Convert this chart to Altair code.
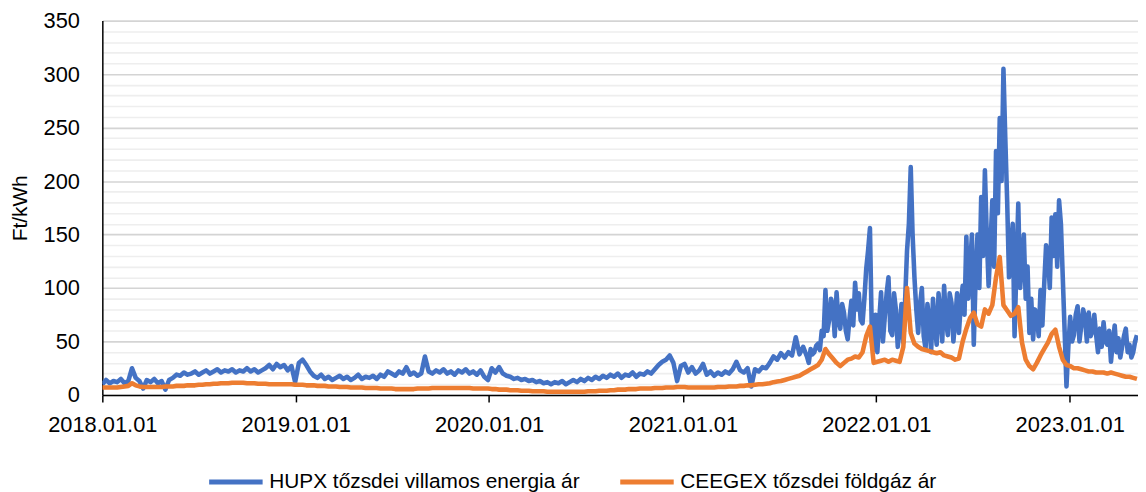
import altair as alt
import pandas as pd

start_date = "2018-01-01"
step = "7D"
series_names = ["HUPX tőzsdei villamos energia ár", "CEEGEX tőzsdei földgáz ár"]
series_colors = ["#4472C4", "#ED7D31"]
year_ticks = [2018, 2019, 2020, 2021, 2022, 2023]

# weekly HUPX values (Ft/kWh), from 2018-01-01
hupx = [
    # 2018
    10, 14, 11, 13, 12, 15, 11, 13, 25, 16,
    13, 6, 14, 12, 15, 11, 13, 5, 14, 16,
    19, 18, 21, 19, 20, 22, 19, 21, 23, 20,
    22, 24, 21, 23, 22, 24, 21, 23, 22, 25,
    22, 24, 21, 23, 25, 28, 24, 29, 26, 28,
    23, 27,
    # 2019
    12, 30, 33, 28, 22, 18, 16, 19, 15, 17,
    14, 16, 18, 15, 17, 14, 16, 19, 15, 17,
    16, 18, 15, 19, 17, 22, 20, 18, 22, 20,
    26, 19, 21, 18, 20, 36, 22, 20, 23, 21,
    24, 20, 22, 19, 23, 21, 24, 20, 22, 19,
    23, 17,
    # 2020
    14, 25, 21, 26, 20, 18, 17, 15, 16, 14,
    15, 13, 14, 12, 13, 11, 12, 10, 12, 11,
    13, 10, 12, 14, 12, 15, 13, 16, 14, 17,
    15, 18, 16, 19, 17, 20, 16, 19, 18, 21,
    17, 20, 19, 22, 20, 24, 28, 31, 33, 37,
    30, 13,
    # 2021
    27, 29, 21, 26, 20, 23, 29, 19, 22, 18,
    21, 19, 22, 20, 24, 31, 23, 21, 25, 8,
    24, 22, 26, 25, 30, 36, 33, 39, 35, 40,
    37, 54, 38, 45, 36, 43, 40, 48, 60, 98,
    70, 84, 96, 62, 77, 52, 88, 105, 95, 67,
    118, 156, 42,
    # 2022 - 2023
    40, 96, 73, 110, 56, 80, 62, 49, 135, 213,
    110, 58, 100, 43, 70, 90, 47, 75, 102, 56,
    86, 70, 58, 102, 148, 120, 47, 150, 185, 210,
    102, 182, 228, 259, 305, 182, 133, 55, 179, 124,
    90, 58, 52, 75, 98, 104, 130, 166, 169, 182,
    110, 8, 73, 56, 83, 65, 72, 77, 60, 56,
    62, 68, 47, 31, 65, 53, 45, 62, 47, 40,
    56,
]

# mid-week HUPX values for the volatile period, from week 190 on
mid_first_week = 190
hupx_mid = [
    30, 38, 46, 42, 55, 60, 90, 55, 70, 85,
    60, 72, 65, 80, 70, 90, 135, 60, 75, 70,
    50, 95, 60, 95, 45, 85, 90, 160, 150, 80,
    85, 55, 85, 40, 65, 95, 50, 70, 95, 50,
    95, 85, 75, 90, 150, 110, 100, 130, 150, 140,
    120, 170, 200, 240, 110, 160, 120, 100, 150, 120,
    90, 80, 55, 65, 140, 100, 130, 120, 160, 60,
    45, 50, 75, 50, 80, 50, 55, 75, 40, 45,
    50, 60, 50, 40, 35, 55, 40, 35, 50,
]

# weekly CEEGEX values (Ft/kWh), from 2018-01-01
ceegex = [
    # 2018
    7, 7, 7, 7, 7, 7.5, 8, 8.5, 11, 9,
    8, 7.5, 7.5, 7.5, 7.5, 7.5, 7.5, 8, 8, 8,
    8.5, 8.5, 8.5, 9, 9, 9, 9.5, 9.5, 10, 10,
    10.5, 10.5, 11, 11, 11, 11.5, 11.5, 11.5, 11.5, 11,
    11, 11, 10.5, 10.5, 10.5, 10, 10, 10, 10, 10,
    10, 10,
    # 2019
    9.5, 9.5, 9.5, 9, 9, 9, 8.5, 8.5, 8.5, 8,
    8, 8, 7.5, 7.5, 7.5, 7, 7, 7, 7, 6.5,
    6.5, 6.5, 6.5, 6, 6, 6, 6, 5.5, 5.5, 5.5,
    5.5, 5.5, 5.5, 6, 6, 6, 6, 6.5, 6.5, 6.5,
    6.5, 6.5, 6.5, 6.5, 6.5, 6.5, 6.5, 6.5, 6, 6,
    6, 6,
    # 2020
    6, 5.5, 5.5, 5, 5, 5, 4.5, 4.5, 4.5, 4,
    4, 4, 3.5, 3.5, 3.5, 3.5, 3, 3, 3, 3,
    3, 3, 3, 3, 3, 3, 3, 3.5, 3.5, 3.5,
    4, 4, 4, 4.5, 4.5, 5, 5, 5, 5.5, 5.5,
    5.5, 6, 6, 6, 6, 6.5, 6.5, 6.5, 7, 7,
    7, 7.5,
    # 2021
    7.5, 7.5, 7, 7, 7, 7, 7, 7, 7, 7,
    7.5, 7.5, 7.5, 8, 8, 8, 8.5, 8.5, 9, 9,
    9.5, 10, 10, 10.5, 11, 12, 12.5, 13, 14, 15,
    16, 17, 18, 20, 22, 24, 26, 28, 33, 43,
    38, 34, 30, 27, 30, 33, 34, 36, 35, 40,
    55, 64, 30,
    # 2022 - 2023
    31, 32, 33, 31, 33, 32, 31, 45, 100, 58,
    48, 45, 43, 42, 41, 40, 39, 40, 37, 36,
    35, 33, 34, 50, 62, 72, 77, 66, 64, 80,
    76, 84, 110, 129, 84, 79, 74, 76, 82, 49,
    33, 27, 24, 30, 37, 43, 49, 57, 61, 45,
    33, 28, 27, 25, 25, 24, 23, 22, 22, 21,
    21, 21, 20, 21, 20, 19, 18, 17, 17, 16,
    15,
]

assert len(hupx) == len(ceegex)
dates = pd.date_range(start_date, periods=len(hupx), freq=step)
mid_dates = dates[mid_first_week:mid_first_week + len(hupx_mid)] + pd.Timedelta(hours=84)

blue_df = pd.DataFrame({
    "date": list(dates) + list(mid_dates),
    "value": hupx + hupx_mid,
}).sort_values("date")
blue_df["series"] = series_names[0]
orange_df = pd.DataFrame({"date": dates, "value": ceegex, "series": series_names[1]})
df = pd.concat([blue_df, orange_df], ignore_index=True)

FONT = "Liberation Sans"

x_enc = alt.X(
    "date:T",
    title=None,
    scale=alt.Scale(domain=[alt.DateTime(year=2018, month=1, date=1),
                            alt.DateTime(year=2023, month=5, date=10)]),
    axis=alt.Axis(
        values=[alt.DateTime(year=y, month=1, date=1) for y in year_ticks],
        format="%Y.%m.%d", grid=False, domainColor="black", domainWidth=1.5,
        tickColor="black", tickWidth=1.5, tickSize=7, labelPadding=13,
        labelFontSize=22, labelFont=FONT, labelColor="black",
        labelFlush=False, labelOverlap=False,
    ),
)
y_enc = alt.Y(
    "value:Q",
    title="Ft/kWh",
    scale=alt.Scale(domain=[0, 350], nice=False),
    axis=alt.Axis(
        values=list(range(0, 351, 10)),
        labelExpr="datum.value % 50 === 0 ? datum.label : ''",
        ticks=False, domainColor="black", domainWidth=1.5,
        gridColor=alt.condition("datum.value % 50 === 0", alt.value("#d4d4d4"), alt.value("#eeeeee")),
        gridWidth=1.6,
        labelPadding=23, labelFontSize=22, labelFont=FONT, labelColor="black",
        titleFontSize=21, titleFont=FONT, titleFontWeight="normal", titleColor="black",
        titlePadding=13,
    ),
)
color_enc = alt.Color(
    "series:N",
    scale=alt.Scale(domain=series_names, range=series_colors),
    legend=alt.Legend(
        title=None, orient="none", legendX=105, legendY=435, direction="horizontal",
        symbolType="stroke", symbolStrokeWidth=5, symbolSize=2900,
        labelFontSize=21, labelFont=FONT, labelColor="black", labelLimit=0,
        labelOffset=4, columnPadding=30,
    ),
)

base = alt.Chart(df).mark_line(strokeWidth=4.6, clip=True, strokeJoin="round").encode(
    x=x_enc, y=y_enc, color=color_enc
)

blue = base.transform_filter(alt.datum.series == series_names[0])
orange = base.transform_filter(alt.datum.series == series_names[1])

chart = alt.layer(blue, orange).properties(
    width=1043, height=377,
    autosize=alt.AutoSizeParams(type="none"),
    padding={"left": 95, "top": 11, "right": 0, "bottom": 96},
).configure_view(stroke=None).configure_legend(symbolStrokeWidth=5)

chart.save("out.html", embed_options={"renderer": "svg", "actions": False})
